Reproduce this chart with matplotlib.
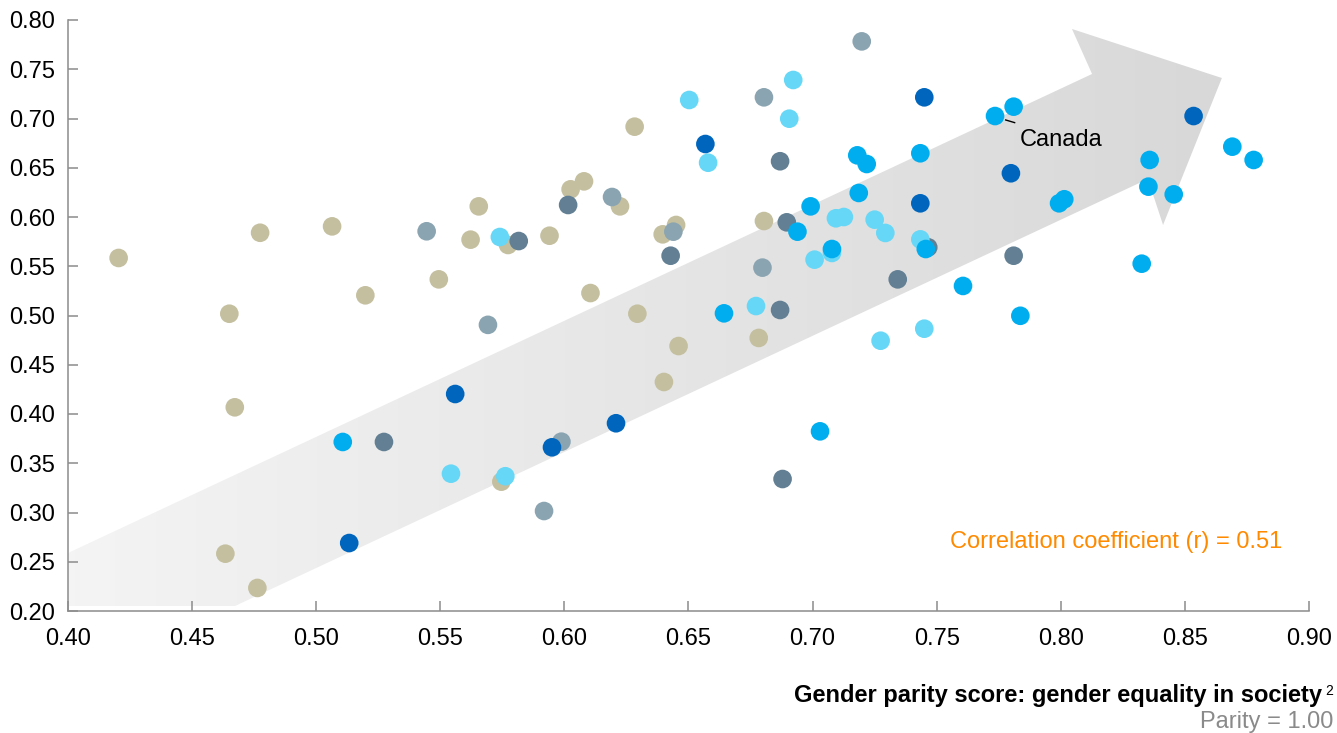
import numpy as np
import matplotlib
matplotlib.use("Agg")
import matplotlib.pyplot as plt
from matplotlib.patches import Polygon
from matplotlib.colors import LinearSegmentedColormap

plt.rcParams['font.family'] = ['Liberation Sans', 'DejaVu Sans']

# x = gender parity score (society), y = second score, grouped by colour
tan_x = [0.4204, 0.4774, 0.5064, 0.5494, 0.5198, 0.4650, 0.4672, 0.4634, 0.4763, 0.6283,
         0.6079, 0.6025, 0.6224, 0.5655, 0.5622, 0.5773, 0.5940, 0.6450, 0.6396, 0.6804,
         0.6105, 0.6294, 0.6460, 0.6783, 0.6401, 0.5746]
tan_y = [0.5584, 0.5840, 0.5905, 0.5367, 0.5205, 0.5018, 0.4068, 0.2582, 0.2234, 0.6917,
         0.6362, 0.6281, 0.6108, 0.6108, 0.5770, 0.5716, 0.5810, 0.5919, 0.5824, 0.5959,
         0.5228, 0.5018, 0.4690, 0.4772, 0.4325, 0.3313]

grayblue_x = [0.5445, 0.7198, 0.6804, 0.6192, 0.6439, 0.6798, 0.5692, 0.5988, 0.5918]
grayblue_y = [0.5855, 0.7783, 0.7215, 0.6203, 0.5851, 0.5486, 0.4905, 0.3719, 0.3015]

slate_x = [0.5273, 0.6869, 0.6015, 0.5816, 0.6428, 0.6896, 0.6869, 0.6879, 0.7466, 0.7810, 0.7343]
slate_y = [0.3716, 0.6566, 0.6122, 0.5756, 0.5607, 0.5946, 0.5056, 0.3340, 0.5692, 0.5607, 0.5367]

light_x = [0.5543, 0.6922, 0.6906, 0.6503, 0.6579, 0.5740, 0.7094, 0.7126, 0.7250, 0.7293,
           0.7008, 0.7078, 0.6772, 0.7274, 0.5762, 0.7434, 0.7450]
light_y = [0.3394, 0.7391, 0.6998, 0.7188, 0.6551, 0.5797, 0.5987, 0.6000, 0.5973, 0.5838,
           0.5567, 0.5635, 0.5096, 0.4744, 0.3368, 0.5773, 0.4866]

bright_x = [0.5107, 0.7180, 0.7218, 0.7186, 0.6939, 0.6992, 0.7078, 0.6643, 0.7030, 0.7735,
            0.7810, 0.7434, 0.8691, 0.8777, 0.8358, 0.8353, 0.8455, 0.7993, 0.8014, 0.7456,
            0.7606, 0.8326, 0.7837]
bright_y = [0.3716, 0.6626, 0.6538, 0.6244, 0.5851, 0.6108, 0.5675, 0.5022, 0.3824, 0.7025,
            0.7120, 0.6647, 0.6714, 0.6579, 0.6579, 0.6308, 0.6230, 0.6139, 0.6180, 0.5675,
            0.5300, 0.5526, 0.4997]

dark_x = [0.5560, 0.5133, 0.6568, 0.6208, 0.5950, 0.7450, 0.8535, 0.7799, 0.7434]
dark_y = [0.4203, 0.2690, 0.6741, 0.3906, 0.3662, 0.7215, 0.7025, 0.6444, 0.6139]

groups = [
    (tan_x, tan_y, '#c4bf9f'),
    (grayblue_x, grayblue_y, '#8aa4b1'),
    (slate_x, slate_y, '#627f93'),
    (light_x, light_y, '#66d7f6'),
    (bright_x, bright_y, '#00aeef'),
    (dark_x, dark_y, '#0066bd'),
]

x_ticks = [0.40, 0.45, 0.50, 0.55, 0.60, 0.65, 0.70, 0.75, 0.80, 0.85, 0.90]
y_ticks = [0.20, 0.25, 0.30, 0.35, 0.40, 0.45, 0.50, 0.55, 0.60, 0.65, 0.70, 0.75, 0.80]

fig = plt.figure(figsize=(13.37, 7.33), dpi=100)
ax = fig.add_axes([68 / 1337, 1 - 611 / 733, (1309 - 68) / 1337, (611 - 20) / 733])

# big trend arrow with a left-to-right grey gradient
arrow_pts = [(0.400, 0.2589), (0.400, 0.2051), (0.4673, 0.2051), (0.8351, 0.6386),
             (0.8412, 0.5919), (0.8649, 0.7411), (0.8045, 0.7909), (0.8126, 0.7452)]
arrow = Polygon(arrow_pts, closed=True, facecolor='none', edgecolor='none')
ax.add_patch(arrow)
cmap = LinearSegmentedColormap.from_list('g', ['#f4f4f4', '#d8d8d8'])
grad = np.linspace(0, 1, 256).reshape(1, -1)
im = ax.imshow(grad, cmap=cmap, extent=[0.40, 0.865, 0.205, 0.791], aspect='auto',
               zorder=1, interpolation='bilinear')
im.set_clip_path(arrow)
ax.set_xlim(0.40, 0.90)
ax.set_ylim(0.20, 0.80)

for gx, gy, c in groups:
    ax.scatter(gx, gy, s=180, color=c, edgecolors='none', zorder=3)

# Canada label
ax.plot([0.7778, 0.7814], [0.6985, 0.6958], color='black', lw=1, zorder=4)
ax.text(0.7836, 0.6724, 'Canada', fontsize=17, va='baseline', ha='left', zorder=4)

ax.text(0.7554, 0.264, 'Correlation coefficient (r) = 0.51', fontsize=17,
        color='#ff8a00', va='baseline', ha='left')

ax.set_xticks(x_ticks)
ax.set_yticks(y_ticks)
ax.set_xticklabels([f'{v:.2f}' for v in x_ticks])
ax.set_yticklabels([f'{v:.2f}' for v in y_ticks])
ax.tick_params(direction='in', length=7, width=1.1, color='#8c8c8c', labelsize=17)
ax.tick_params(axis='y', pad=9.5)
ax.tick_params(axis='x', pad=12.5)
for s in ['top', 'right']:
    ax.spines[s].set_visible(False)
for s in ['left', 'bottom']:
    ax.spines[s].set_color('#8c8c8c')
    ax.spines[s].set_linewidth(1.1)

fig.text(1322 / 1337, 1 - 701.7 / 733, 'Gender parity score: gender equality in society',
         fontsize=17, fontweight='bold', ha='right', va='baseline')
fig.text(1325.5 / 1337, 1 - 695 / 733, '2', fontsize=10, ha='left', va='baseline')
fig.text(1333 / 1337, 1 - 728 / 733, 'Parity = 1.00', fontsize=17, color='#8a8a8a',
         ha='right', va='baseline')

fig.savefig('out.png', dpi=100)
